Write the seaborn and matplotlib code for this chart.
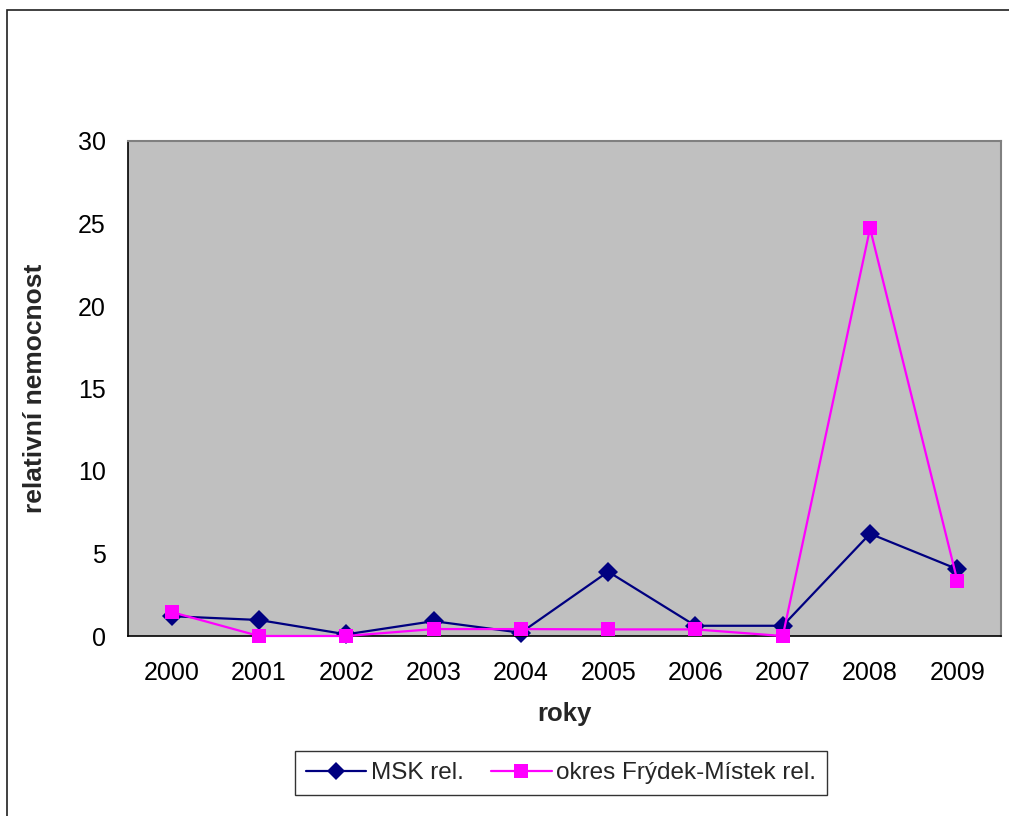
import matplotlib
matplotlib.use("Agg")
import matplotlib.pyplot as plt
import seaborn as sns
import pandas as pd
import numpy as np
from matplotlib.patches import Rectangle
from matplotlib.ticker import MultipleLocator, FixedLocator

years = [2000, 2001, 2002, 2003, 2004, 2005, 2006, 2007, 2008, 2009]
msk_rel = [1.2, 0.97, 0.1, 0.9, 0.2, 3.9, 0.62, 0.62, 6.2, 4.05]
frydek_rel = [1.45, 0.0, 0.0, 0.42, 0.42, 0.4, 0.4, 0.0, 24.7, 3.35]
series_names = ["MSK rel.", "okres Frýdek-Místek rel."]

df = pd.DataFrame({
    "rok": years * 2,
    "hodnota": msk_rel + frydek_rel,
    "serie": [series_names[0]] * len(years) + [series_names[1]] * len(years),
})

sns.set_style("white")
plt.rcParams["font.family"] = ["Liberation Sans", "DejaVu Sans"]

W, H = 1009, 816
fig = plt.figure(figsize=(W / 100, H / 100), dpi=100)
ax = fig.add_axes([128 / W, 1 - 636 / H, (1001 - 128) / W, (636 - 141) / H])
ax.set_facecolor("#C0C0C0")

palette = {series_names[0]: "#000080", series_names[1]: "#FF00FF"}
markers = {series_names[0]: "D", series_names[1]: "s"}
sns.lineplot(data=df, x="rok", y="hodnota", hue="serie", style="serie",
             palette=palette, markers=markers, dashes=False, linewidth=1.6,
             markersize=10, markeredgewidth=0, ax=ax, legend=False, clip_on=False)
# square markers drawn on top
for line in ax.get_lines():
    if line.get_marker() == "s":
        line.set_markersize(9.5)
        line.set_zorder(3)

ax.set_xlim(1999.5, 2009.5)
ax.set_ylim(0, 30)
ax.yaxis.set_major_locator(MultipleLocator(5))
ax.xaxis.set_major_locator(FixedLocator(years))
ax.xaxis.set_minor_locator(FixedLocator(np.arange(1999.5, 2010, 1.0)))
ax.tick_params(axis="x", which="major", length=0, labelsize=18, pad=18)
ax.tick_params(axis="x", which="minor", length=8, width=1, color="black", direction="out")
ax.tick_params(axis="y", which="major", length=8, width=1, color="black", direction="out",
               labelsize=18, pad=8)
ax.tick_params(axis="both", labelcolor="black")

for side in ["top", "right"]:
    ax.spines[side].set_color("#808080")
    ax.spines[side].set_linewidth(1.5)
for side in ["left", "bottom"]:
    ax.spines[side].set_color("black")
    ax.spines[side].set_linewidth(1.2)

ax.set_xlabel("roky", fontsize=18.5, fontweight="bold", labelpad=12)
ax.set_ylabel("relativní nemocnost", fontsize=19, fontweight="bold", labelpad=22)

handles = [
    plt.Line2D([], [], color="#000080", marker="D", markersize=9, lw=1.6, markeredgewidth=0),
    plt.Line2D([], [], color="#FF00FF", marker="s", markersize=9.5, lw=1.6, markeredgewidth=0),
]
leg = fig.legend(handles, series_names, loc="center",
                 bbox_to_anchor=((293 + 829) / 2 / W, 1 - 773 / H),
                 ncol=2, frameon=True, fancybox=False, fontsize=17.5,
                 handlelength=2.5, columnspacing=1.1, handletextpad=0.2,
                 borderpad=0.45)
leg.get_frame().set_edgecolor("black")
leg.get_frame().set_linewidth(1)

# outer chart frame
fig.patches.append(Rectangle((7 / W, -0.05), 1.1, 1 - 10 / H + 0.05,
                             transform=fig.transFigure, fill=False,
                             edgecolor="#202020", linewidth=1.2))

fig.savefig("out.png", dpi=100)
